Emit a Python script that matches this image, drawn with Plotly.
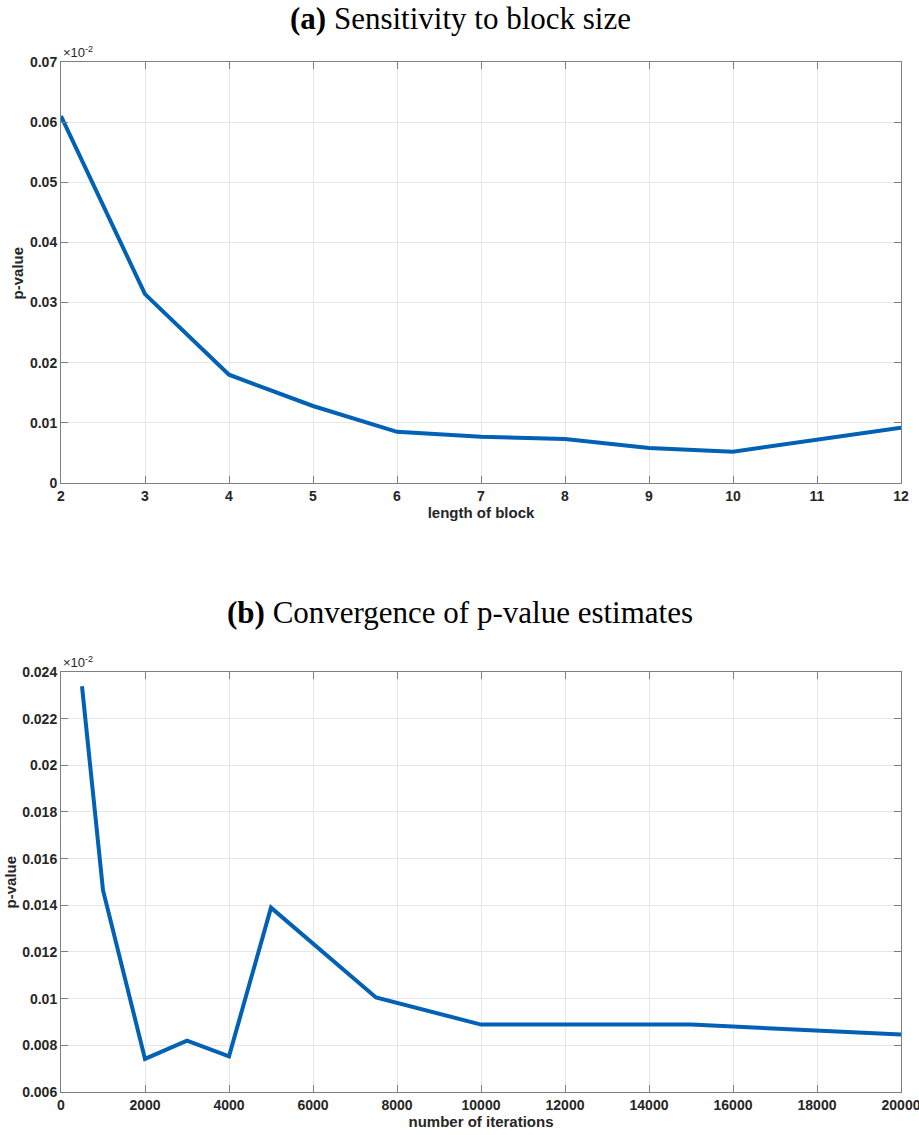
import plotly.graph_objects as go

# Panel (a): sensitivity to block size
block_len = [2, 3, 4, 5, 6, 7, 8, 9, 10, 11, 12]
pval_block = [0.0610, 0.0314, 0.0180, 0.0128, 0.0085, 0.0077, 0.0073, 0.0058, 0.0052, 0.0072, 0.0092]

# Panel (b): convergence of p-value estimates
n_iter = [500, 1000, 2000, 3000, 4000, 5000, 7500, 10000, 15000, 20000]
pval_iter = [0.02339, 0.01465, 0.00742, 0.00820, 0.00753, 0.01390, 0.01005, 0.00889, 0.00889, 0.00846]

yticks_a = [0, 0.01, 0.02, 0.03, 0.04, 0.05, 0.06, 0.07]
yticklabels_a = ["0", "0.01", "0.02", "0.03", "0.04", "0.05", "0.06", "0.07"]
yticks_b = [0.006, 0.008, 0.010, 0.012, 0.014, 0.016, 0.018, 0.020, 0.022, 0.024]
yticklabels_b = ["0.006", "0.008", "0.01", "0.012", "0.014", "0.016", "0.018", "0.02", "0.022", "0.024"]

LINE_COLOR = "#0061B5"
AX_COLOR = "#262626"
TICK_FONT = dict(family="Liberation Sans Narrow, Arial Narrow, Liberation Sans, Arial", size=14,
                 color=AX_COLOR, weight="bold")
TITLE_FONT = dict(family="Liberation Sans Narrow, Arial Narrow, Liberation Sans, Arial", size=15,
                  color=AX_COLOR, weight="bold")

fig = go.Figure()
fig.add_trace(go.Scatter(x=block_len, y=pval_block, mode="lines",
                         line=dict(color=LINE_COLOR, width=4), xaxis="x", yaxis="y",
                         showlegend=False))
fig.add_trace(go.Scatter(x=n_iter, y=pval_iter, mode="lines",
                         line=dict(color=LINE_COLOR, width=4), xaxis="x2", yaxis="y2",
                         showlegend=False))

common = dict(showline=True, linecolor="#7f7f7f", linewidth=1, mirror="ticks",
              ticks="inside", ticklen=7, tickcolor="#7f7f7f",
              showgrid=True, gridcolor="#e6e6e6", gridwidth=1,
              zeroline=False, tickfont=TICK_FONT, automargin=False,
              ticklabeloverflow="allow")

top_dom = [0.5913, 1.0]
bot_dom = [0.0, 0.4078]

fig.update_layout(
    width=919, height=1135,
    margin=dict(l=61, r=18, t=62, b=43),
    paper_bgcolor="white", plot_bgcolor="white",
    xaxis=dict(domain=[0, 1], anchor="y", range=[2, 12], dtick=1, tick0=2,
               title=dict(text="length of block", font=TITLE_FONT, standoff=4), **common),
    yaxis=dict(domain=top_dom, anchor="x", range=[0, 0.07],
               tickvals=yticks_a, ticktext=yticklabels_a, **common),
    xaxis2=dict(domain=[0, 1], anchor="y2", range=[0, 20000], dtick=2000, tick0=0,
                tickformat="d",
                title=dict(text="number of iterations", font=TITLE_FONT, standoff=2), **common),
    yaxis2=dict(domain=bot_dom, anchor="x2", range=[0.006, 0.024],
                tickvals=yticks_b, ticktext=yticklabels_b, **common),
)

# y-axis titles placed as rotated annotations (MATLAB-like position)
for dom, xpos in ((top_dom, -0.0524), (bot_dom, -0.0590)):
    fig.add_annotation(text="p-value", xref="paper", yref="paper",
                       x=xpos, y=(dom[0] + dom[1]) / 2, xanchor="center", yanchor="middle",
                       textangle=-90, showarrow=False, font=TITLE_FONT)

SERIF = "Liberation Serif, DejaVu Serif, serif"
fig.add_annotation(text="<b>(a)</b> Sensitivity to block size", xref="paper", yref="paper",
                   x=0.475, y=1.0427, xanchor="center", yanchor="middle", showarrow=False,
                   font=dict(family=SERIF, size=31, color="black"))
fig.add_annotation(text="<b>(b)</b> Convergence of p-value estimates", xref="paper", yref="paper",
                   x=0.475, y=0.466, xanchor="center", yanchor="middle", showarrow=False,
                   font=dict(family=SERIF, size=31, color="black"))

EXP_FONT = dict(family="Liberation Sans, Arial", size=13, color=AX_COLOR)
fig.add_annotation(text="×10<sup>-2</sup>", xref="paper", yref="paper",
                   x=0.0, y=1.0, xanchor="left", yanchor="bottom", showarrow=False,
                   font=EXP_FONT)
fig.add_annotation(text="×10<sup>-2</sup>", xref="paper", yref="paper",
                   x=0.0, y=bot_dom[1], xanchor="left", yanchor="bottom", showarrow=False,
                   font=EXP_FONT)

fig.write_html("out.html", config={"displayModeBar": False},
               post_script="document.body.style.margin='0';document.body.style.overflow='hidden';")
